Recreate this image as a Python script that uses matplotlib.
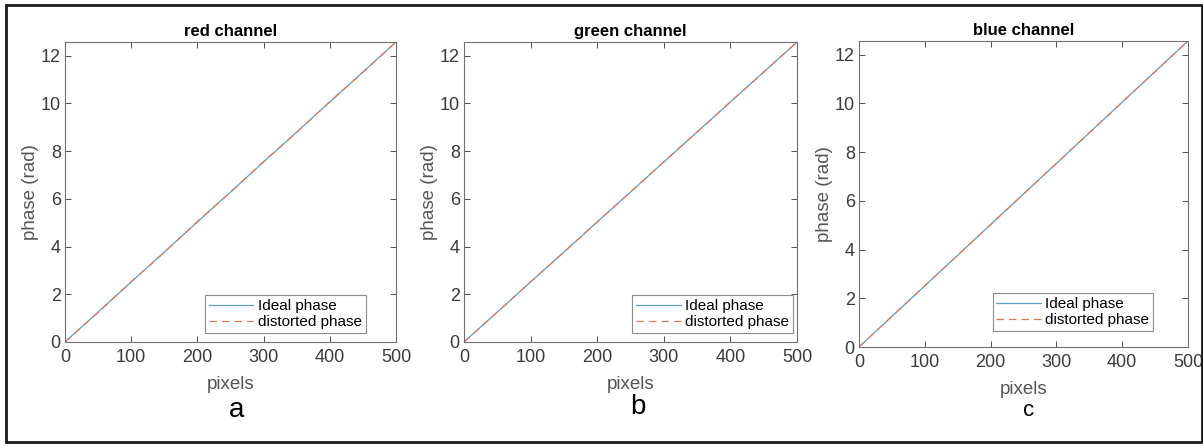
import numpy as np
import matplotlib.pyplot as plt
from matplotlib.patches import Rectangle

plt.rcParams['font.family'] = ['Liberation Sans', 'DejaVu Sans']

# pixel positions along the line and phase samples for each channel
pixels = [0, 50, 100, 150, 200, 250, 300, 350, 400, 450, 500]
ideal_phase = [0, 1.257, 2.513, 3.770, 5.027, 6.283, 7.540, 8.796, 10.053, 11.310, 12.566]
distorted_red = [0, 1.24, 2.53, 3.75, 5.05, 6.27, 7.56, 8.78, 10.07, 11.29, 12.566]
distorted_green = [0, 1.25, 2.52, 3.76, 5.03, 6.28, 7.55, 8.79, 10.06, 11.30, 12.566]
distorted_blue = [0, 1.257, 2.513, 3.770, 5.027, 6.283, 7.540, 8.796, 10.053, 11.310, 12.566]

titles = ['red channel', 'green channel', 'blue channel']
letters = ['a', 'b', 'c']
distorted = [distorted_red, distorted_green, distorted_blue]
xticks = [0, 100, 200, 300, 400, 500]
yticks = [0, 2, 4, 6, 8, 10, 12]

W, H = 1203, 446
fig = plt.figure(figsize=(W / 100, H / 100), dpi=100)

# axes boxes in pixels: left, right, top, bottom
boxes = [(65, 396, 42, 342), (464, 797, 42, 342), (859, 1188, 41, 347)]
legend_anchor = [(0.909, 0.03), (0.988, 0.03), (0.894, 0.052)]
letter_pos = [(237, 410), (638, 407), (1029, 411)]
letter_size = [20, 20, 16]

grey = '#4d4d4d'
for i in range(3):
    l, r, t, b = boxes[i]
    ax = fig.add_axes([l / W, 1 - b / H, (r - l) / W, (b - t) / H])
    ax.plot(pixels, ideal_phase, color='#5a9fcc', lw=0.9, label='Ideal phase')
    ax.plot(pixels, distorted[i], color='#e07a55', lw=0.9, ls=(0, (6, 4)),
            label='distorted phase')
    ax.set_xlim(0, 500)
    ax.set_ylim(0, 12.566)
    ax.set_xticks(xticks)
    ax.set_yticks(yticks)
    ax.tick_params(direction='in', top=True, right=True, length=4,
                   colors=grey, labelsize=13, labelcolor='#3a3a3a', width=0.7)
    ax.tick_params(axis='x', pad=5)
    ax.tick_params(axis='y', pad=3)
    for s in ax.spines.values():
        s.set_color('#707070')
        s.set_linewidth(0.8)
    ax.set_xlabel('pixels', fontsize=13.5, color='#555555', labelpad=7)
    ax.set_ylabel('phase (rad)', fontsize=13.5, color='#555555', labelpad=1)
    ax.set_title(titles[i], fontsize=12, fontweight='bold', pad=4)
    leg = ax.legend(loc='lower right', bbox_to_anchor=legend_anchor[i],
                    fontsize=11, handlelength=2.9, frameon=True, fancybox=False,
                    borderpad=0.25, labelspacing=0.15, handletextpad=0.3,
                    borderaxespad=0)
    leg.get_frame().set_edgecolor('#707070')
    leg.get_frame().set_linewidth(0.8)
    fig.text(letter_pos[i][0] / W, 1 - letter_pos[i][1] / H, letters[i],
             fontsize=letter_size[i], ha='center', va='center')

# outer frame round the three panels
fig.patches.append(Rectangle((6 / W, 4 / H), 1196 / W, 437 / H, transform=fig.transFigure,
                             fill=False, edgecolor='#1a1a1a', linewidth=2))

fig.savefig('out.png', dpi=100)
